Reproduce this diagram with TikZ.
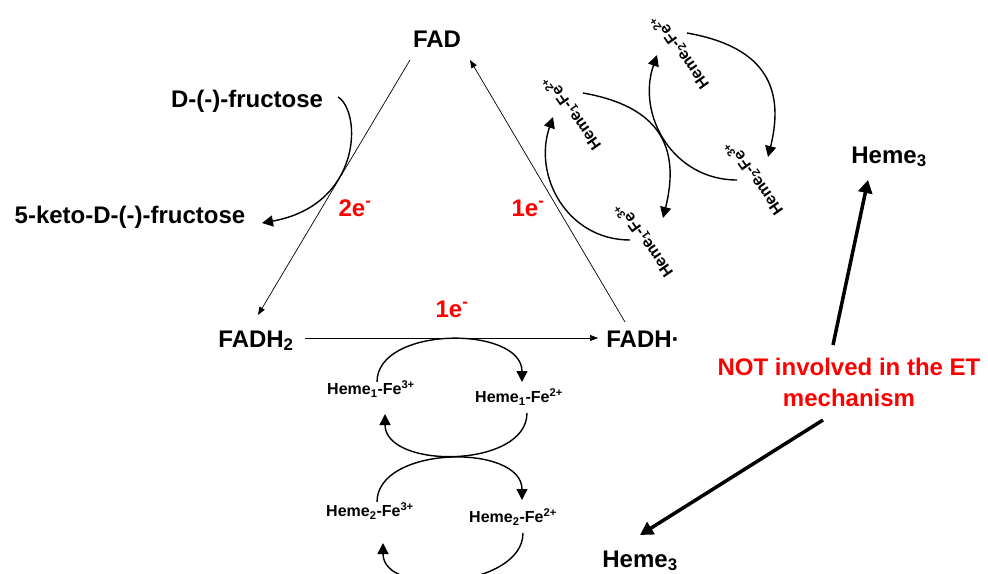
\documentclass[tikz,border=0pt]{standalone}
\usepackage{fontspec}
\setmainfont{Liberation Sans}
\usepackage{xcolor}
\usetikzlibrary{arrows.meta,calc,positioning}

\begin{document}
\begin{tikzpicture}[x=1pt,y=1pt]
	\tikzstyle{every node}=[inner sep=2pt]
	\tikzstyle{lbl}=[font=\fontsize{24}{31}\selectfont\bfseries, text height=17pt, text depth=0pt]
	\tikzstyle{hemelbl}=[font=\fontsize{16}{19}\selectfont\bfseries, text height=11.5pt, text depth=0pt]
	\tikzstyle{elbl}=[lbl, text=red]
	\tikzstyle{notelbl}=[font=\fontsize{24}{31}\selectfont\bfseries, text=red, align=center]
	\tikzstyle{etarrow}=[line width=0.7pt, -{Triangle[length=8pt,width=6pt]}]
	\tikzstyle{cycarrow}=[line width=1.4pt, -{Triangle[length=11pt,width=11pt]}]
	\tikzstyle{boldarrow}=[line width=3.5pt, -{Triangle[length=13pt,width=14pt]}]
	\useasboundingbox (0,0) rectangle (988,-573);

	% flavin triangle
	\node [lbl] (fad) at (437,-38.5) {FAD};
	\node [lbl] (fadh2) at (256,-338.5) {FADH\textsubscript{2}};
	\node [lbl] (fadh) at (643,-338.5) {FADH·};
	\node [elbl] (e2) at (355,-207.5) {2e\textsuperscript{-}};
	\node [elbl] (e1a) at (528,-207.5) {1e\textsuperscript{-}};
	\node [elbl] (e1b) at (452,-308.5) {1e\textsuperscript{-}};
	\draw [etarrow] ($(fad)+(-27,-21.5)$) -- ($(fadh2)+(2,23.5)$);
	\draw [etarrow] ($(fadh)+(-18,16.5)$) -- ($(fad)+(33,-21.5)$);
	\draw [etarrow] ($(fadh2)+(49,0.5)$) -- ($(fadh)+(-45,0.5)$);

	% substrate
	\node [lbl] (fru) at (247,-98.5) {D-(-)-fructose};
	\node [lbl] (keto) at (130,-214.5) {5-keto-D-(-)-fructose};
	\draw [cycarrow] ($(fru)+(91,1.5)$) .. controls +(24,-15) and +(100,18) .. ($(keto)+(132,-8.5)$);

	% heme cycles below
	\node [hemelbl] (h1ox) at (371,-389) {Heme\textsubscript{1}-Fe\textsuperscript{3+}};
	\node [hemelbl] (h1red) at (519,-397) {Heme\textsubscript{1}-Fe\textsuperscript{2+}};
	\node [hemelbl] (h2ox) at (370,-511) {Heme\textsubscript{2}-Fe\textsuperscript{3+}};
	\node [hemelbl] (h2red) at (513,-517) {Heme\textsubscript{2}-Fe\textsuperscript{2+}};
	\draw [cycarrow] ($(h1ox)+(6,7)$) to[out=90,in=90] ($(h1red)+(3,15)$);
	\draw [cycarrow] ($(h1red)+(8,-16)$) to[out=-90,in=-90] ($(h1ox)+(14,-25)$);
	\draw [cycarrow] ($(h2ox)+(7,9)$) to[out=90,in=90] ($(h2red)+(9,17)$);
	\draw [cycarrow] ($(h2red)+(10,-16)$) to[out=-90,in=-90] ($(h2ox)+(13,-32)$);

	% heme cycles upper right
	\node [hemelbl, rotate=125] (u1red) at (572,-113) {Heme\textsubscript{1}-Fe\textsuperscript{2+}};
	\node [hemelbl, rotate=125] (u1ox) at (644,-240) {Heme\textsubscript{1}-Fe\textsuperscript{3+}};
	\node [hemelbl, rotate=125] (u2red) at (680,-52) {Heme\textsubscript{2}-Fe\textsuperscript{2+}};
	\node [hemelbl, rotate=125] (u2ox) at (754,-178) {Heme\textsubscript{2}-Fe\textsuperscript{3+}};
	\draw [cycarrow] ($(u1red)+(11,20)$) to[out=-10,in=76,looseness=1.3] ($(u1ox)+(19,22)$);
	\draw [cycarrow] ($(u1ox)+(-14,0)$) to[out=180,in=-109,looseness=1.1] ($(u1red)+(-19,-4)$);
	\draw [cycarrow] ($(u2red)+(7,19)$) to[out=-10,in=76,looseness=1.3] ($(u2ox)+(14,21)$);
	\draw [cycarrow] ($(u2ox)+(-17,-2)$) to[out=180,in=-109,looseness=1.1] ($(u2red)+(-23,-3)$);

	% Heme 3
	\node [notelbl] (note) at (849,-382) {NOT involved in the ET\\mechanism};
	\node [lbl] (heme3a) at (889,-154.5) {Heme\textsubscript{3}};
	\node [lbl] (heme3b) at (640,-558.5) {Heme\textsubscript{3}};
	\draw [boldarrow] ($(note)+(-16,37)$) -- ($(heme3a)+(-21,-25.5)$);
	\draw [boldarrow] ($(note)+(-26,-38)$) -- ($(heme3b)+(0,23.5)$);
\end{tikzpicture}
\end{document}
